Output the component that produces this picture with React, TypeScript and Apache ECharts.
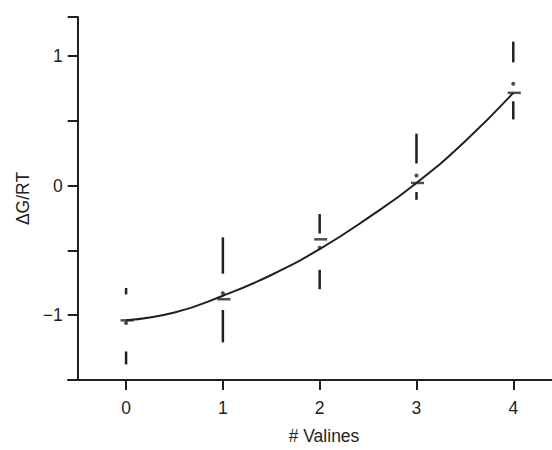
import React, { useEffect, useRef } from "react";
import * as echarts from "echarts";

const xTicks = [0, 1, 2, 3, 4];
const curveX = [0, 0.5, 1, 1.5, 2, 2.5, 3, 3.5, 4];
const curveY = [-1.04, -0.98, -0.85, -0.69, -0.49, -0.25, 0.02, 0.34, 0.715];
const upperHi = [-0.79, -0.4, -0.22, 0.4, 1.11];
const upperLo = [-0.84, -0.68, -0.37, 0.17, 0.95];
const lowerHi = [-1.28, -0.96, -0.65, -0.05, 0.65];
const lowerLo = [-1.38, -1.21, -0.8, -0.11, 0.51];
const meanMark = [-1.04, -0.877, -0.415, 0.02, 0.715];
const dotMark = [-1.06, -0.83, -0.48, 0.077, 0.785];

const INK = "#231f20";
const FONT = "'Liberation Sans', Arial, Helvetica, sans-serif";
const FS = 17.5;

export default function App() {
  const ref = useRef<HTMLDivElement>(null);
  useEffect(() => {
    document.body.style.margin = "0";
    if (!ref.current) return;
    const chart = echarts.init(ref.current, undefined, { renderer: "svg" });
    const segs: number[][] = [];
    xTicks.forEach((x, i) => {
      segs.push([x, upperLo[i], upperHi[i]]);
      segs.push([x, lowerLo[i], lowerHi[i]]);
    });
    chart.setOption({
      animation: false,
      grid: { left: 68, right: 0, top: 17, bottom: 69 },
      xAxis: {
        type: "value",
        min: -0.6,
        max: 4.4,
        name: "# Valines",
        nameLocation: "middle",
        nameGap: 47,
        nameTextStyle: { color: INK, fontSize: FS, fontFamily: FONT, padding: [0, 0, 0, 28] },
        axisLine: { onZero: false, lineStyle: { color: INK, width: 2 } },
        axisTick: { show: true, customValues: xTicks, length: 10, lineStyle: { color: INK, width: 2 } },
        axisLabel: { customValues: xTicks, color: INK, fontSize: FS, fontFamily: FONT, margin: 19 },
        splitLine: { show: false },
      },
      yAxis: {
        type: "value",
        min: -1.5,
        max: 1.3,
        interval: 0.5,
        offset: -9.7,
        name: "\u0394G/RT",
        nameLocation: "middle",
        nameGap: 41,
        nameTextStyle: { color: INK, fontSize: FS, fontFamily: FONT },
        axisLine: { show: true, onZero: false, lineStyle: { color: INK, width: 2 } },
        axisTick: { show: true, length: 10, lineStyle: { color: INK, width: 2 } },
        axisLabel: {
          color: INK,
          fontSize: FS,
          fontFamily: FONT,
          margin: 15,
          formatter: (v: number) =>
            Number.isInteger(v) && v !== -1.5 ? (v < 0 ? "\u2212" + Math.abs(v) : String(v)) : "",
        },
        splitLine: { show: false },
      },
      series: [
        {
          type: "line",
          data: curveX.map((x, i) => [x, curveY[i]]),
          smooth: true,
          showSymbol: false,
          lineStyle: { color: INK, width: 2 },
          z: 3,
        },
        {
          type: "custom",
          data: segs,
          renderItem: (params: any, api: any) => {
            const p1 = api.coord([api.value(0), api.value(1)]);
            const p2 = api.coord([api.value(0), api.value(2)]);
            return {
              type: "line",
              shape: { x1: p1[0], y1: p1[1], x2: p2[0], y2: p2[1] },
              style: { stroke: INK, lineWidth: 2.5 },
            };
          },
          z: 4,
        },
        {
          type: "scatter",
          data: xTicks.map((x, i) => [x, meanMark[i]]),
          symbol: "rect",
          symbolSize: [13, 2.5],
          symbolOffset: [1, 0],
          itemStyle: { color: INK },
          z: 5,
        },
        {
          type: "scatter",
          data: xTicks.map((x, i) => [x, dotMark[i]]),
          symbol: "circle",
          symbolSize: 4,
          itemStyle: { color: INK },
          z: 5,
        },
      ],
    });
    return () => chart.dispose();
  }, []);
  return <div ref={ref} style={{ width: 552, height: 450 }} />;
}
